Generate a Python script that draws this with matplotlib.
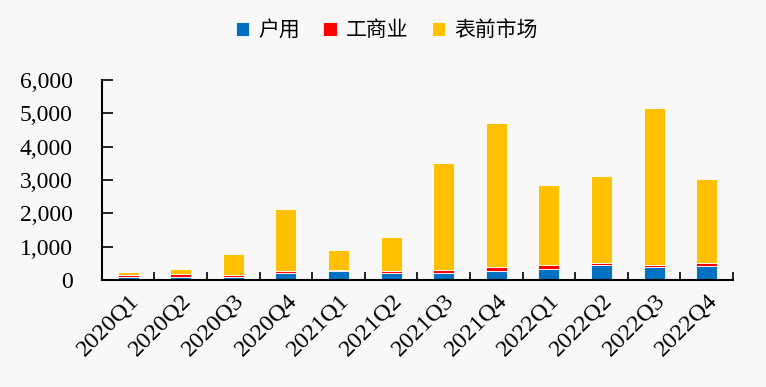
import numpy as np
import matplotlib.pyplot as plt
from matplotlib.ticker import FuncFormatter, FixedLocator

quarters = ['2020Q1', '2020Q2', '2020Q3', '2020Q4',
            '2021Q1', '2021Q2', '2021Q3', '2021Q4',
            '2022Q1', '2022Q2', '2022Q3', '2022Q4']
# 户用 / 工商业 / 表前市场
household = [90, 90, 100, 200, 260, 200, 210, 270, 320, 460, 380, 410]
commercial = [70, 80, 60, 80, 50, 70, 100, 130, 140, 60, 60, 90]
front_meter = [80, 150, 610, 1860, 590, 1020, 3190, 4310, 2400, 2610, 4730, 2520]
series_names = ['户用', '工商业', '表前市场']
colors = ['#0070C0', '#FF0000', '#FFC000']

bg = '#F8F8F8'
fig = plt.figure(figsize=(7.66, 3.87), dpi=100, facecolor=bg)
ax = fig.add_axes([0.133, 0.2765, 0.824, 0.5165], facecolor=bg)

x = np.arange(len(quarters))
bottom = np.zeros(len(quarters))
for vals, name, c in zip([household, commercial, front_meter], series_names, colors):
    ax.bar(x, vals, 0.4, bottom=bottom, color=c, label=name,
           edgecolor='#FFFFFF', linewidth=0.6)
    bottom += np.array(vals)

ax.set_xlim(-0.5, len(quarters) - 0.5)
ax.set_ylim(0, 6000)
ax.set_yticks(range(0, 6001, 1000))
ax.yaxis.set_major_formatter(FuncFormatter(lambda v, p: f'{int(v):,}'))

ax.set_xticks(x)
ax.set_xticklabels(quarters, rotation=45, ha='right', rotation_mode='anchor',
                   fontfamily='Liberation Serif', fontsize=17.5)
ax.xaxis.set_minor_locator(FixedLocator(np.arange(0.5, len(quarters), 1.0)))
ax.tick_params(axis='x', which='major', length=0, pad=7)
ax.tick_params(axis='x', which='minor', direction='in', length=6, width=1.2)
ax.tick_params(axis='y', direction='in', length=8, width=1.2, pad=21)
for lab in ax.get_yticklabels():
    lab.set_fontfamily('Liberation Serif')
    lab.set_fontsize(17)

for s in ['top', 'right']:
    ax.spines[s].set_visible(False)
for s in ['left', 'bottom']:
    ax.spines[s].set_linewidth(1.5)
    ax.spines[s].set_color('black')

fig.legend(loc='center', bbox_to_anchor=(0.505, 0.922), ncol=3, frameon=False,
           prop={'family': ['Noto Sans CJK SC', 'DejaVu Sans'], 'size': 15},
           handlelength=0.65, handleheight=0.65, handletextpad=0.45,
           columnspacing=1.1)

fig.savefig('out.png', dpi=100, facecolor=bg)
